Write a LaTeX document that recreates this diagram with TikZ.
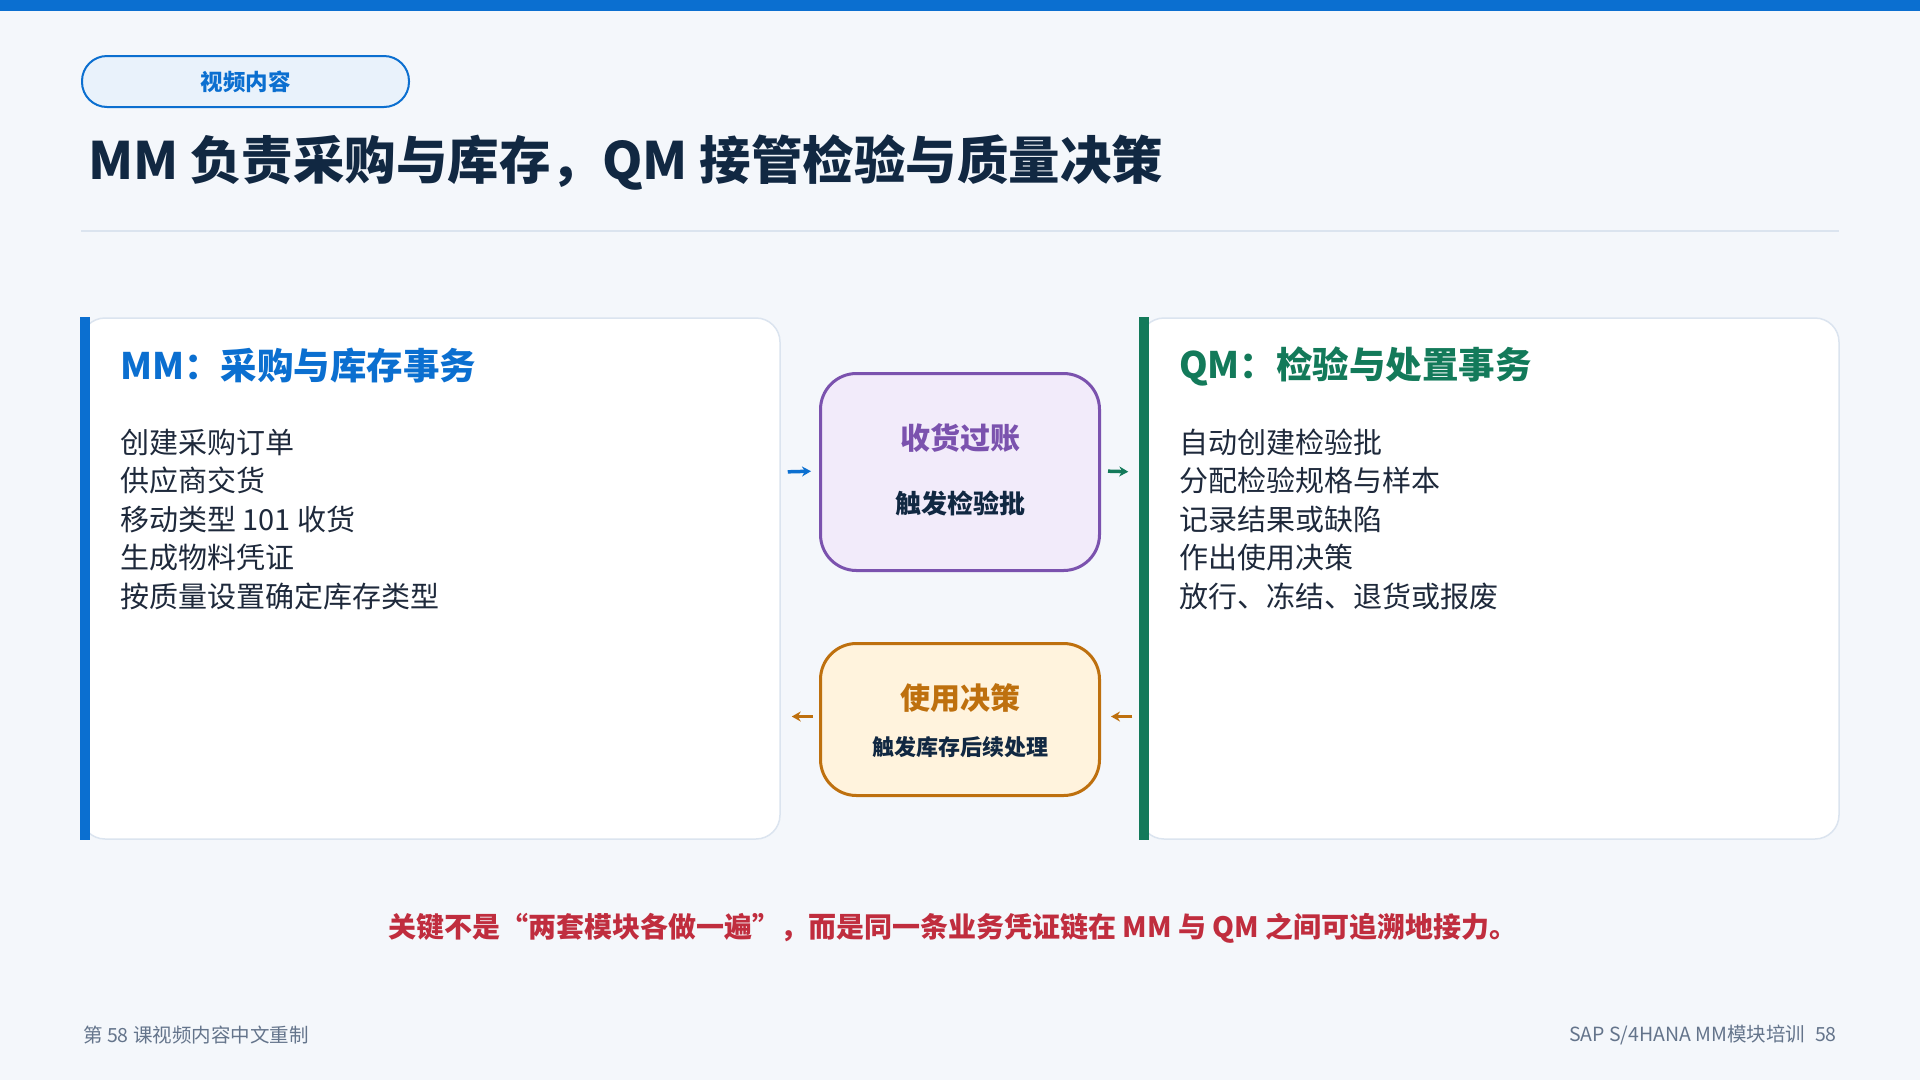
\documentclass[tikz,border=0pt]{standalone}
\usepackage{fontspec}
\setmainfont{Noto Sans CJK SC}
\usetikzlibrary{arrows.meta, positioning, calc}
\definecolor{latarslide}{RGB}{244,247,251}
\definecolor{birumm}{RGB}{11,111,208}
\definecolor{hijauqm}{RGB}{19,122,90}
\definecolor{unguterima}{RGB}{123,82,174}
\definecolor{isiungu}{RGB}{242,235,250}
\definecolor{oranyeud}{RGB}{190,112,14}
\definecolor{isioranye}{RGB}{255,243,221}
\definecolor{merahcatat}{RGB}{192,45,62}
\definecolor{navyjudul}{RGB}{17,40,66}
\definecolor{tintaisi}{RGB}{30,41,59}
\definecolor{abukaki}{RGB}{100,116,139}
\definecolor{garispanel}{RGB}{219,228,239}
\newcommand{\pxfont}[1]{\fontsize{#1}{#1}\selectfont}

\begin{document}
\begin{tikzpicture}[x=1pt, y=-1pt, inner sep=0pt,
        panel/.style={rectangle, rounded corners=24pt, draw=garispanel, line width=1.5pt,
                      fill=white, minimum width=699pt, minimum height=521pt},
        stepbox/.style={rectangle, rounded corners=36pt, line width=3pt, minimum width=279pt},
        head/.style={anchor=west, font=\bfseries\pxfont{36.5}},
        item/.style={anchor=west, text=tintaisi, font=\pxfont{29}},
        flow/.style={-{Stealth[length=9pt, width=10pt]}, line width=3.5pt}
    ]
        \fill[latarslide] (0,0) rectangle (1920,1080);
        \fill[birumm] (0,0) rectangle (1920,11);

        \node[draw=birumm, fill=birumm!9, line width=2pt, rounded corners=25pt, minimum width=327pt,
              minimum height=51pt, text=birumm, font=\bfseries\pxfont{22.5}] (tag) at (245.5,81.5) {视频内容};
        \node[anchor=west, text=navyjudul, font=\bfseries\pxfont{51.5}] (title) at (88,163)
            {MM 负责采购与库存，QM 接管检验与质量决策};
        \draw[garispanel, line width=2pt] (81,231) -- (1839,231);

        \node[panel] (mm) at (430.5,578.5) {};
        \fill[birumm] (mm.north west) rectangle ([xshift=10pt]mm.south west);
        \node[panel] (qm) at (1489.5,578.5) {};
        \fill[hijauqm] (qm.north west) rectangle ([xshift=10pt]qm.south west);

        \node[head, text=birumm] (mmhead) at (120,366) {MM：采购与库存事务};
        \node[head, text=hijauqm] (qmhead) at (1179,366) {QM：检验与处置事务};
        \foreach \t [count=\i] in {创建采购订单, 供应商交货, 移动类型 101 收货, 生成物料凭证, 按质量设置确定库存类型}
            \node[item] (mmi\i) at (120,403.5+38.5*\i) {\t};
        \foreach \t [count=\i] in {自动创建检验批, 分配检验规格与样本, 记录结果或缺陷, 作出使用决策, 放行、冻结、退货或报废}
            \node[item] (qmi\i) at (1179,403.5+38.5*\i) {\t};

        \node[stepbox, draw=unguterima, fill=isiungu, minimum height=197pt] (gr) at (960,472) {};
        \node[text=unguterima, font=\bfseries\pxfont{30}] (grhead) at (960,438) {收货过账};
        \node[text=navyjudul, font=\bfseries\pxfont{26}] (grsub) at (960,503) {触发检验批};
        \node[stepbox, draw=oranyeud, fill=isioranye, minimum height=152pt] (ud) at (960,719.5) {};
        \node[text=oranyeud, font=\bfseries\pxfont{30}] (udhead) at (960,698) {使用决策};
        \node[text=navyjudul, font=\bfseries\pxfont{22}] (udsub) at (960,747) {触发库存后续处理};

        \draw[flow, birumm, shorten <=7pt, shorten >=8pt] (mm.east |- gr.west) -- ([yshift=1pt]gr.west);
        \draw[flow, hijauqm, shorten <=7pt, shorten >=11pt] ([yshift=1pt]gr.east) -- (qm.west |- gr.east);
        \draw[flow, oranyeud, shorten <=7pt, shorten >=10pt] ([yshift=3pt]qm.west |- ud.east) -- ([yshift=3pt]ud.east);
        \draw[flow, oranyeud, shorten <=6pt, shorten >=11pt] ([yshift=3pt]ud.west) -- ([yshift=3pt]mm.east |- ud.west);

        \node[text=merahcatat, font=\bfseries\pxfont{28}] (note) at (953,928)
            {关键不是“两套模块各做一遍”，而是同一条业务凭证链在 MM 与 QM 之间可追溯地接力。};
        \node[anchor=west, text=abukaki, font=\pxfont{19.5}] (footl) at (83,1035) {第 58 课视频内容中文重制};
        \node[anchor=east, text=abukaki, font=\pxfont{19.5}] (footr) at (1837,1035) {SAP S/4HANA MM模块培训\enspace 58};
    \end{tikzpicture}
\end{document}
